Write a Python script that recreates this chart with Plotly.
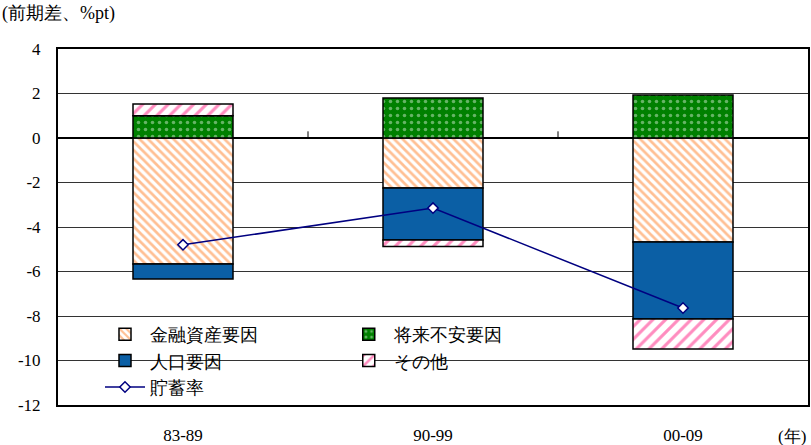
import plotly.graph_objects as go

categories = ["83-89", "90-99", "00-09"]
financial = [-5.66, -2.25, -4.67]
population = [-0.68, -2.33, -3.46]
anxiety = [1.0, 1.8, 1.93]
other = [0.53, -0.3, -1.35]
saving_rate = [-4.8, -3.15, -7.64]
y_tickvals = [4, 2, 0, -2, -4, -6, -8, -10, -12]
y_ticktext = ["4", "2", "0", "-2", "-4", "-6", "-8", "-10", "-12"]

FONT = "Times New Roman, Liberation Serif, serif"
x = list(range(len(categories)))

fig = go.Figure()
fig.add_bar(x=x, y=financial, name="金融資産要因", width=0.4,
            marker=dict(color="white", line=dict(color="black", width=1.5),
                        pattern=dict(shape="\\", fgcolor="#FF7F27", bgcolor="white", size=6, solidity=0.45)),
            legend="legend")
fig.add_bar(x=x, y=population, name="人口要因", width=0.4,
            marker=dict(color="#0B5FA5", line=dict(color="black", width=1.5)),
            legend="legend")
fig.add_bar(x=x, y=anxiety, name="将来不安要因", width=0.4,
            marker=dict(color="#008000", line=dict(color="black", width=1.5),
                        pattern=dict(shape=".", fgcolor="#CCE8CC", bgcolor="#008000", size=7, solidity=0.2)),
            legend="legend2")
fig.add_bar(x=x, y=other, name="その他", width=0.4,
            marker=dict(color="white", line=dict(color="black", width=1.5),
                        pattern=dict(shape="/", fgcolor="#FF1A80", bgcolor="white", size=9, solidity=0.35)),
            legend="legend2")
fig.add_scatter(x=x, y=saving_rate, name="貯蓄率", mode="lines+markers",
                line=dict(color="#000080", width=1.5),
                marker=dict(symbol="diamond", size=8, color="white", line=dict(color="#000080", width=1.5)),
                legend="legend")

fig.add_shape(type="rect", xref="paper", yref="y", x0=0, x1=0.643, y0=-12, y1=-8.1,
              fillcolor="white", line=dict(width=0), layer="between")
for b in [0.5, 1.5]:
    fig.add_shape(type="line", xref="x", yref="y", x0=b, x1=b, y0=0, y1=0.3,
                  line=dict(color="black", width=1))

fig.update_layout(
    width=811, height=445,
    margin=dict(l=58, r=3, t=49, b=40, autoexpand=False),
    barmode="relative",
    plot_bgcolor="white", paper_bgcolor="white",
    font=dict(family=FONT, size=17, color="black"),
    legend=dict(x=0.056, y=0.25, xanchor="left", yanchor="top", bgcolor="rgba(0,0,0,0)",
                font=dict(size=18), tracegroupgap=0, itemwidth=40),
    legend2=dict(x=0.381, y=0.25, xanchor="left", yanchor="top", bgcolor="rgba(0,0,0,0)",
                 font=dict(size=18), tracegroupgap=0, itemwidth=40),
    xaxis=dict(range=[-0.5, 2.5], tickvals=x, ticktext=categories, showgrid=False,
               showline=True, mirror=True, linecolor="black", linewidth=2,
               ticks="", ticklabelstandoff=14, zeroline=False, automargin=False),
    yaxis=dict(range=[-12, 4], tickvals=y_tickvals, ticktext=y_ticktext,
               showgrid=True, gridcolor="#333333", gridwidth=1,
               zeroline=True, zerolinecolor="black", zerolinewidth=1.5,
               showline=True, mirror=True, linecolor="black", linewidth=2,
               ticks="", ticklabelstandoff=12, automargin=False),
    annotations=[
        dict(text="(前期差、%pt)", xref="paper", yref="paper", x=-0.077, y=1.0, yshift=36,
             xanchor="left", yanchor="middle", showarrow=False, font=dict(size=18)),
        dict(text="(年)", xref="paper", yref="paper", x=1.0, y=0, yshift=-31,
             xanchor="right", yanchor="middle", showarrow=False, font=dict(size=17)),
    ],
)

fig.write_html("out.html")
